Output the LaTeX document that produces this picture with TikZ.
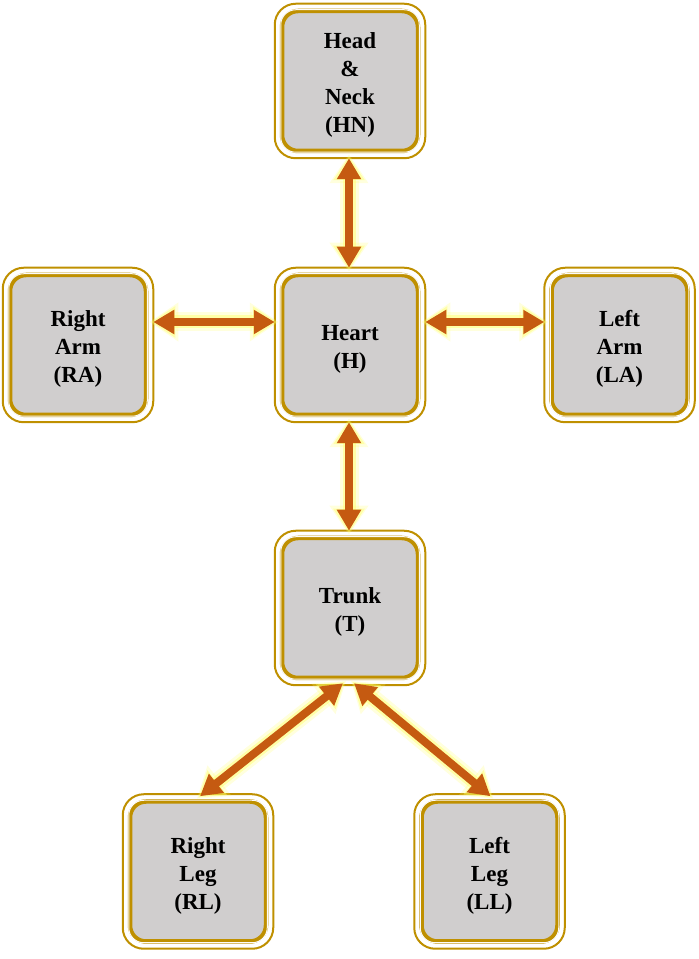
\documentclass[tikz,border=0pt]{standalone}
\usepackage{fontspec}
\setmainfont{Liberation Serif}
\usetikzlibrary{arrows.meta,calc}
\definecolor{gold}{HTML}{BF9000}
\definecolor{boxgray}{HTML}{D0CECE}
\definecolor{arrowor}{HTML}{C55A11}
\definecolor{glowy}{HTML}{FFFF66}
\tikzset{
  bodybox/.style={draw=gold, line width=4.5pt, fill=boxgray, rounded corners=16pt,
    minimum width=136pt, minimum height=140pt, inner sep=0pt},
  boxlabel/.style={align=center, inner sep=0pt,
    font=\fontsize{23}{28}\selectfont\bfseries},
  outerframe/.style={draw=gold, line width=2pt, rounded corners=21pt},
  innerline/.style={draw=white!92!boxgray, line width=1pt, rounded corners=15pt},
  glowA/.style={draw=glowy, opacity=0.22, line width=19pt, shorten <=-4pt, shorten >=-4pt,
    {Triangle[length=29pt,width=37pt]}-{Triangle[length=29pt,width=37pt]}},
  glowB/.style={draw=glowy, opacity=0.45, line width=13pt, shorten <=-2pt, shorten >=-2pt,
    {Triangle[length=24pt,width=30pt]}-{Triangle[length=24pt,width=30pt]}},
  link/.style={draw=arrowor, line width=8pt,
    {Triangle[length=21pt,width=23pt]}-{Triangle[length=21pt,width=23pt]}},
}
\newcommand{\bodypart}[4]{%
  \node[bodybox] (#1) at (#2,#3) {};
  \draw[outerframe] ($(#1.south west)+(-5,-5)$) rectangle ($(#1.north east)+(5,5)$);
  \draw[innerline] ($(#1.south west)+(1,1)$) rectangle ($(#1.north east)+(-1,-1)$);
  \node[boxlabel] (#1-text) at ($(#1.center)+(0,-4)$) {#4};
}
\newcommand{\bilink}[2]{%
  \path[glowA] (#1) -- (#2);
  \path[glowB] (#1) -- (#2);
  \path[link] (#1) -- (#2);
}
\begin{document}
\begin{tikzpicture}[x=1pt,y=1pt]
\useasboundingbox (0,0) rectangle (699,959);
\bodypart{HN}{350}{878}{Head\\\&\\Neck\\(HN)}
\bodypart{H}{350}{614}{Heart\\(H)}
\bodypart{RA}{78}{614}{Right\\Arm\\(RA)}
\bodypart{LA}{619.5}{614}{Left\\Arm\\(LA)}
\bodypart{T}{350}{351}{Trunk\\(T)}
\bodypart{RL}{198}{87.5}{Right\\Leg\\(RL)}
\bodypart{LL}{489.5}{87.5}{Left\\Leg\\(LL)}
\coordinate (hnS) at ($(HN.south)+(-1,-5)$);
\coordinate (hN) at ($(H.north)+(-1,5)$);
\coordinate (hS) at ($(H.south)+(-1,-5)$);
\coordinate (hW) at ($(H.west)+(-5,23)$);
\coordinate (hE) at ($(H.east)+(5,23)$);
\coordinate (raE) at ($(RA.east)+(5,23)$);
\coordinate (laW) at ($(LA.west)+(-5,23)$);
\coordinate (tN) at ($(T.north)+(-1,5)$);
\coordinate (tS1) at ($(T.south)+(-7,-3)$);
\coordinate (tS2) at ($(T.south)+(4,-3)$);
\coordinate (rlN) at ($(RL.north)+(2,3)$);
\coordinate (llN) at ($(LL.north)+(1,3)$);
\bilink{hnS}{hN}
\bilink{raE}{hW}
\bilink{hE}{laW}
\bilink{hS}{tN}
\bilink{tS1}{rlN}
\bilink{tS2}{llN}
\end{tikzpicture}
\end{document}
